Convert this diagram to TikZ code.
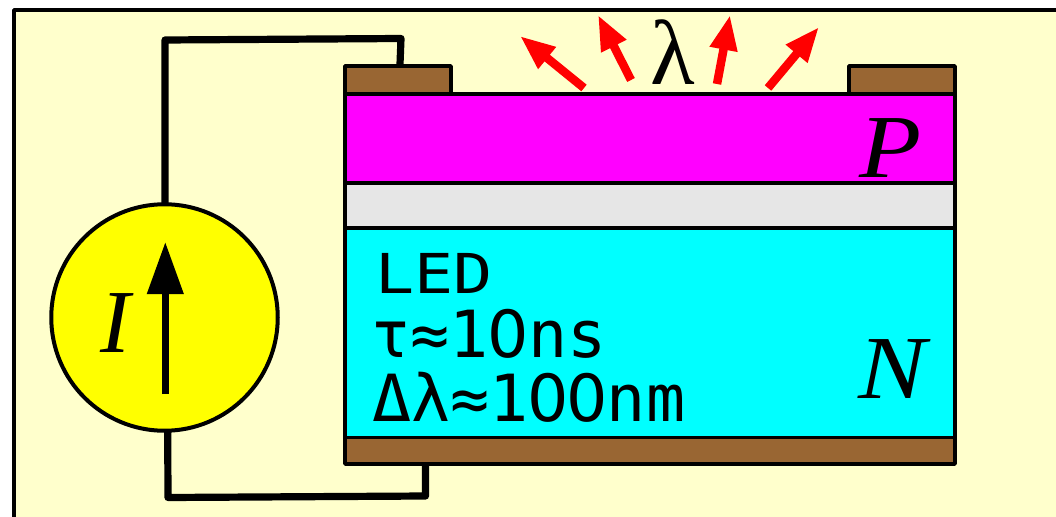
\documentclass[tikz,border=0pt]{standalone}
\usepackage{graphicx}
\usepackage{fontspec}
\setmainfont{Liberation Serif}
\newfontfamily\monoinfo{DejaVu Sans Mono}
\newfontfamily\plainsans{DejaVu Sans}
\usetikzlibrary{arrows.meta}
\definecolor{brownc}{RGB}{153,102,51}
\definecolor{grayc}{RGB}{230,230,230}
\definecolor{paper}{RGB}{255,255,204}
\definecolor{puremag}{RGB}{255,0,255}
\definecolor{purecyan}{RGB}{0,255,255}
\definecolor{pureyel}{RGB}{255,255,0}
\definecolor{purered}{RGB}{255,0,0}
\newcommand{\zerochar}{\makebox[39.1pt][c]{\plainsans 0}}
\tikzset{
  x=1pt,y=-1pt,
  layer/.style={draw=black,line width=3.6pt,rectangle,inner sep=0pt,outer sep=0pt,line join=round},
  wire/.style={draw=black,line width=7.2pt,line join=round},
  ray/.style={draw=purered,line width=8.5pt,-{Triangle[length=35pt,width=26pt]}},
  arrowi/.style={draw=black,line width=7.2pt,-{Triangle[length=52pt,width=35pt]}},
  info/.style={font=\monoinfo\fontsize{65}{65}\selectfont,anchor=base west,inner sep=0pt},
  ledtext/.style={font=\monoinfo\fontsize{55}{55}\selectfont,anchor=base west,inner sep=0pt},
  sym/.style={font=\itshape\fontsize{90}{90}\selectfont,anchor=base,inner sep=0pt},
}
\newcommand{\layerbox}[6]{\node[layer,fill=#2,minimum width=#5-#3,minimum height=#6-#4,anchor=north west] (#1) at (#3,#4) {};}
\begin{document}
\begin{tikzpicture}
\useasboundingbox (0,0) rectangle (1056,516);
\fill[white] (0,0) rectangle (1056,516);
\draw[fill=paper,line width=3.4pt,line join=round] (14,600) -- (14,10) -- (1100,10) -- (1100,600) -- cycle;
\node[circle,draw=black,line width=4pt,fill=pureyel,minimum size=226.5pt,inner sep=0pt,outer sep=0pt] (src) at (164.5,317.5) {};
\coordinate (w1) at (165,40);
\coordinate (w2) at (401,38.5);
\coordinate (w3) at (168,497.5);
\coordinate (w4) at (425.5,496);
\layerbox{ctl}{brownc}{345}{66}{451}{94}
\layerbox{ctr}{brownc}{849}{66}{955}{94}
\layerbox{pl}{puremag}{345}{94}{955}{183}
\layerbox{gap}{grayc}{345}{183}{955}{228}
\layerbox{nl}{purecyan}{345}{228}{955}{437.5}
\layerbox{cb}{brownc}{345}{437.5}{955}{464}
\coordinate (t1) at (400,64);
\coordinate (t2) at (425.5,466);
\coordinate (s1) at (165,203);
\coordinate (s2) at (167.7,432);
\draw[wire] (s1) -- (w1) -- (w2) -- (t1);
\draw[wire] (s2) -- (w3) -- (w4) -- (t2);
\coordinate (ia) at (165.3,394);
\coordinate (ib) at (165.3,242);
\draw[arrowi] (ia) -- (ib);
\node[sym] (I) at (115,352) {I};
\node[sym] (P) at (891,177) {\scalebox{1.13}[1]{P}};
\node[sym] (N) at (892,398) {\scalebox{1.13}[1]{N}};
\node[font=\fontsize{92}{92}\selectfont,anchor=base,inner sep=0pt] (lam) at (673,85) {λ};
\coordinate (r1a) at (584,88); \coordinate (r1b) at (520,36);
\coordinate (r2a) at (631,80); \coordinate (r2b) at (598,15);
\coordinate (r3a) at (717,84); \coordinate (r3b) at (730,15);
\coordinate (r4a) at (768,88); \coordinate (r4b) at (819,27);
\draw[ray] (r1a) -- (r1b);
\draw[ray] (r2a) -- (r2b);
\draw[ray] (r3a) -- (r3b);
\draw[ray] (r4a) -- (r4b);
\node[ledtext] (t1n) at (375,293) {\scalebox{1.18}[1]{LED}};
\node[info] (t2n) at (371.5,357) {τ≈1\zerochar ns};
\node[info] (t3n) at (372,421) {Δλ≈1\zerochar\zerochar nm};
\end{tikzpicture}
\end{document}
